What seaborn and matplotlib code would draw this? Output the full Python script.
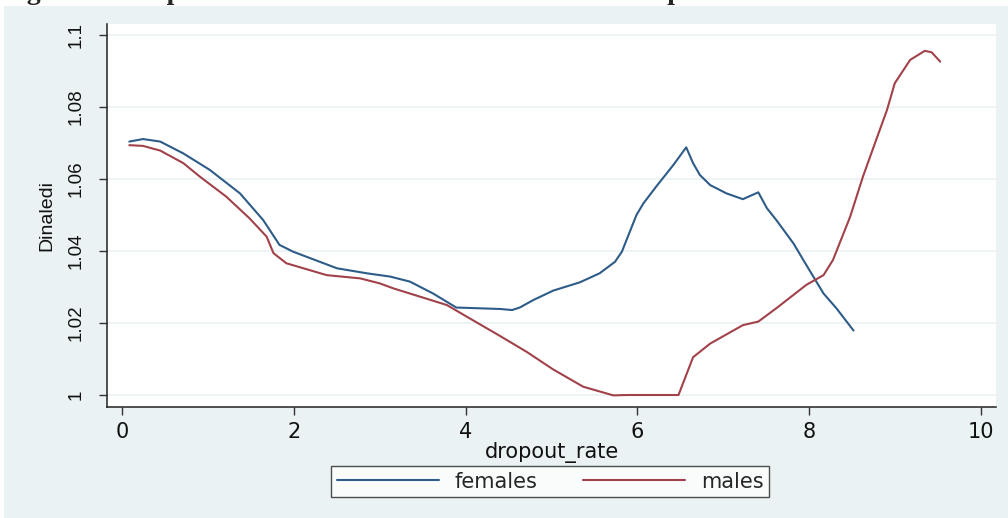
import matplotlib
matplotlib.use("Agg")
import matplotlib.pyplot as plt
from matplotlib.patches import Rectangle
import pandas as pd
import seaborn as sns

# values
fem_x = [0.08, 0.24, 0.44, 0.71, 1.02, 1.37, 1.64, 1.83, 1.99, 2.50, 2.85, 3.12,
         3.35, 3.62, 3.89, 4.40, 4.54, 4.63, 4.79, 5.02, 5.33, 5.56, 5.74, 5.82,
         5.99, 6.07, 6.22, 6.42, 6.57, 6.65, 6.73, 6.85, 7.04, 7.23, 7.41, 7.51,
         7.62, 7.82, 7.97, 8.17, 8.32, 8.52]
fem_y = [1.0704, 1.0711, 1.0704, 1.0671, 1.0625, 1.0560, 1.0486, 1.0417, 1.0398,
         1.0352, 1.0338, 1.0329, 1.0315, 1.0282, 1.0243, 1.0239, 1.0236, 1.0243,
         1.0264, 1.0290, 1.0313, 1.0338, 1.0370, 1.0398, 1.0500, 1.0532, 1.0579,
         1.0639, 1.0688, 1.0644, 1.0611, 1.0583, 1.0560, 1.0544, 1.0563, 1.0519,
         1.0486, 1.0421, 1.0361, 1.0282, 1.0241, 1.0179]

male_x = [0.08, 0.24, 0.44, 0.71, 0.90, 1.21, 1.48, 1.68, 1.76, 1.91, 2.38, 2.77,
          3.00, 3.16, 3.47, 3.78, 4.01, 4.40, 4.71, 5.02, 5.37, 5.72, 5.88, 6.48,
          6.65, 6.85, 7.23, 7.41, 7.62, 7.97, 8.17, 8.28, 8.48, 8.63, 8.79, 8.91,
          9.00, 9.18, 9.35, 9.43, 9.53]
male_y = [1.0694, 1.0692, 1.0679, 1.0644, 1.0607, 1.0551, 1.0491, 1.0440, 1.0394,
          1.0366, 1.0333, 1.0324, 1.0310, 1.0296, 1.0273, 1.0250, 1.0218, 1.0164,
          1.0120, 1.0071, 1.0023, 0.9999, 1.0000, 1.0000, 1.0105, 1.0143, 1.0194,
          1.0204, 1.0241, 1.0306, 1.0333, 1.0375, 1.0495, 1.0607, 1.0713, 1.0792,
          1.0866, 1.0931, 1.0956, 1.0952, 1.0926]

x_ticks = [0, 2, 4, 6, 8, 10]
y_ticks = [1.0, 1.02, 1.04, 1.06, 1.08, 1.1]
y_labels = ["1", "1.02", "1.04", "1.06", "1.08", "1.1"]

df = pd.concat([
    pd.DataFrame({"dropout_rate": fem_x, "Dinaledi": fem_y, "group": "females"}),
    pd.DataFrame({"dropout_rate": male_x, "Dinaledi": male_y, "group": "males"}),
])

sns.set_theme(style="white")
plt.rcParams["font.family"] = ["Liberation Sans", "DejaVu Sans"]

bg = "#eaf2f3"
blue = "#2e5c88"
red = "#a1424a"
wide = "DejaVu Sans"   # the reference text is stretched sideways

fig = plt.figure(figsize=(10.08, 5.18), dpi=100, facecolor="white")
fig.patches.append(Rectangle((4 / 1008, 0), 1, 1 - 6 / 518, transform=fig.transFigure,
                             facecolor=bg, edgecolor="none", zorder=-10))

# page caption, mostly cut off at the top edge as in the reference
fig.text(0.002, 1 + 1 / 518, "Figure 3: Nonparametric estimation of Dinaledi and dropout rate",
         fontsize=20, fontweight="bold", family="Liberation Serif", va="baseline", ha="left")

ax = fig.add_axes([107 / 1008, (518 - 407) / 518, 889 / 1008, 383 / 518])
ax.set_facecolor("white")

sns.lineplot(data=df, x="dropout_rate", y="Dinaledi", hue="group",
             palette={"females": blue, "males": red},
             estimator=None, sort=False, linewidth=1.5, ax=ax, legend=False)

ax.set_xlim(-0.18, 10.18)
ax.set_ylim(0.99667, 1.10306)
ax.set_xticks(x_ticks)
ax.set_xticklabels([str(t) for t in x_ticks], family=wide, fontsize=15)
ax.set_yticks(y_ticks)
ax.set_yticklabels(y_labels, rotation=90, va="center", fontsize=13.5)
for yt in y_ticks:
    ax.axhline(yt, color=bg, linewidth=1.2, zorder=0)

for s in ["top", "right"]:
    ax.spines[s].set_visible(False)
for s in ["left", "bottom"]:
    ax.spines[s].set_color("#222222")
    ax.spines[s].set_linewidth(1.1)

ax.tick_params(axis="both", direction="out", length=6, width=1, color="#333333",
               labelcolor="#111111", left=True, bottom=True)
ax.tick_params(axis="x", pad=5)
ax.tick_params(axis="y", pad=10)
ax.set_xlabel("dropout_rate", fontsize=15, family=wide, color="#111111", labelpad=0)
ax.set_ylabel("Dinaledi", fontsize=14, color="#111111", labelpad=9)

handles = [plt.Line2D([], [], color=blue, linewidth=1.5),
           plt.Line2D([], [], color=red, linewidth=1.5)]
leg = fig.legend(handles, ["females", "males"], loc="center",
                 bbox_to_anchor=(550 / 1008, 1 - 481.5 / 518), ncol=2,
                 prop={"family": wide, "size": 15}, handlelength=4.9,
                 handletextpad=0.75, columnspacing=2.2,
                 frameon=True, fancybox=False, borderpad=0.25)
leg.get_frame().set_edgecolor("#222222")
leg.get_frame().set_linewidth(1.0)
leg.get_frame().set_facecolor("white")

fig.savefig("out.png", dpi=100, facecolor=fig.get_facecolor())
